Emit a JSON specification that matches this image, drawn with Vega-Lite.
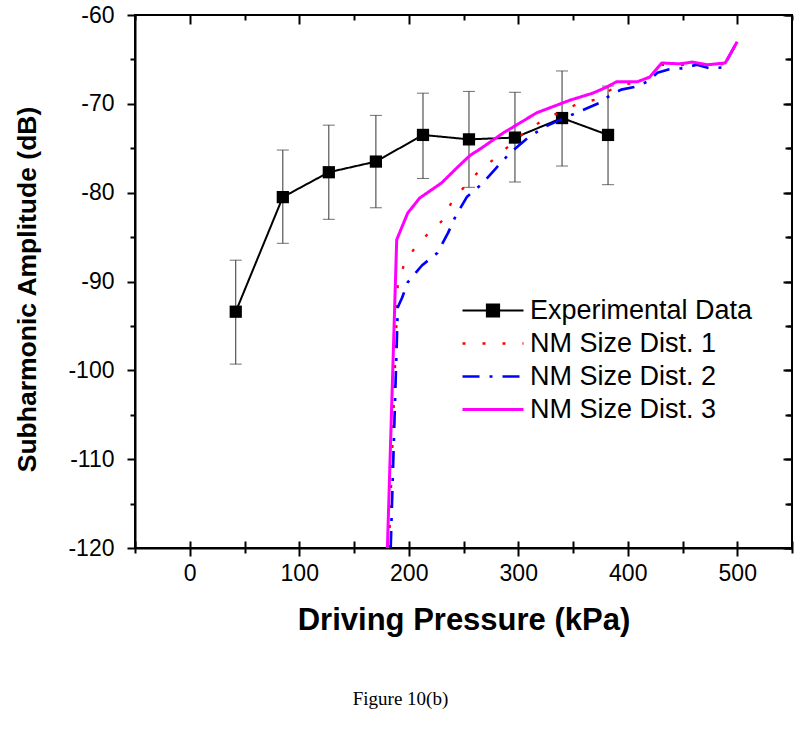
{
  "$schema": "https://vega.github.io/schema/vega-lite/v6.json",
  "width": 657,
  "height": 533,
  "autosize": {"type": "none"},
  "padding": {"left": 135, "top": 15, "right": 8, "bottom": 183},
  "background": "white",
  "title": {
    "text": "Figure 10(b)",
    "orient": "bottom",
    "anchor": "middle",
    "dx": -63,
    "offset": 55,
    "font": "Liberation Serif",
    "fontSize": 19,
    "fontWeight": "normal",
    "color": "black"
  },
  "config": {
    "view": {"stroke": "black", "strokeWidth": 2},
    "axis": {
      "domainColor": "black",
      "domainWidth": 2,
      "tickColor": "black",
      "tickWidth": 2,
      "labelFont": "Liberation Sans",
      "labelColor": "black",
      "titleFont": "Liberation Sans",
      "titleColor": "black",
      "titleFontWeight": "bold",
      "grid": false,
      "labelOverlap": false,
      "labelBound": false
    }
  },
  "resolve": {"axis": {"x": "independent", "y": "independent"}},
  "datasets": {
    "exp": [
      {"series": "Experimental Data", "p": 42, "amp": -93.4, "lo": -99.3, "hi": -87.6},
      {"series": "Experimental Data", "p": 85, "amp": -80.5, "lo": -85.7, "hi": -75.2},
      {"series": "Experimental Data", "p": 127, "amp": -77.7, "lo": -83.0, "hi": -72.4},
      {"series": "Experimental Data", "p": 170, "amp": -76.5, "lo": -81.7, "hi": -71.3},
      {"series": "Experimental Data", "p": 213, "amp": -73.5, "lo": -78.4, "hi": -68.8},
      {"series": "Experimental Data", "p": 255, "amp": -74.0, "lo": -79.4, "hi": -68.6},
      {"series": "Experimental Data", "p": 297, "amp": -73.8, "lo": -78.8, "hi": -68.7},
      {"series": "Experimental Data", "p": 340, "amp": -71.6, "lo": -77.0, "hi": -66.3},
      {"series": "Experimental Data", "p": 382, "amp": -73.5, "lo": -79.1, "hi": -68.0}
    ],
    "curves": [
      {"series": "Experimental Data", "p": 42, "amp": -93.4},
      {"series": "Experimental Data", "p": 85, "amp": -80.5},
      {"series": "Experimental Data", "p": 127, "amp": -77.7},
      {"series": "Experimental Data", "p": 170, "amp": -76.5},
      {"series": "Experimental Data", "p": 213, "amp": -73.5},
      {"series": "Experimental Data", "p": 255, "amp": -74.0},
      {"series": "Experimental Data", "p": 297, "amp": -73.8},
      {"series": "Experimental Data", "p": 340, "amp": -71.6},
      {"series": "Experimental Data", "p": 382, "amp": -73.5},
      {"series": "NM Size Dist. 1", "p": 182, "amp": -120},
      {"series": "NM Size Dist. 1", "p": 190, "amp": -90.2},
      {"series": "NM Size Dist. 1", "p": 196, "amp": -88.0},
      {"series": "NM Size Dist. 1", "p": 205, "amp": -86.3},
      {"series": "NM Size Dist. 1", "p": 217, "amp": -84.7},
      {"series": "NM Size Dist. 1", "p": 231, "amp": -83.1},
      {"series": "NM Size Dist. 1", "p": 239, "amp": -81.1},
      {"series": "NM Size Dist. 1", "p": 251, "amp": -79.3},
      {"series": "NM Size Dist. 1", "p": 264, "amp": -77.6},
      {"series": "NM Size Dist. 1", "p": 279, "amp": -76.1},
      {"series": "NM Size Dist. 1", "p": 306, "amp": -73.2},
      {"series": "NM Size Dist. 1", "p": 323, "amp": -71.8},
      {"series": "NM Size Dist. 1", "p": 356, "amp": -69.9},
      {"series": "NM Size Dist. 1", "p": 372, "amp": -69.5},
      {"series": "NM Size Dist. 1", "p": 387, "amp": -68.2},
      {"series": "NM Size Dist. 1", "p": 405, "amp": -67.6},
      {"series": "NM Size Dist. 1", "p": 420, "amp": -67.0},
      {"series": "NM Size Dist. 1", "p": 431, "amp": -65.6},
      {"series": "NM Size Dist. 1", "p": 447, "amp": -65.7},
      {"series": "NM Size Dist. 1", "p": 459, "amp": -65.4},
      {"series": "NM Size Dist. 1", "p": 473, "amp": -65.7},
      {"series": "NM Size Dist. 1", "p": 489, "amp": -65.5},
      {"series": "NM Size Dist. 1", "p": 500, "amp": -63.0},
      {"series": "NM Size Dist. 2", "p": 183.5, "amp": -120},
      {"series": "NM Size Dist. 2", "p": 190, "amp": -92.9},
      {"series": "NM Size Dist. 2", "p": 194, "amp": -91.8},
      {"series": "NM Size Dist. 2", "p": 199, "amp": -90.1},
      {"series": "NM Size Dist. 2", "p": 212, "amp": -88.2},
      {"series": "NM Size Dist. 2", "p": 226, "amp": -86.8},
      {"series": "NM Size Dist. 2", "p": 236, "amp": -84.5},
      {"series": "NM Size Dist. 2", "p": 243, "amp": -82.6},
      {"series": "NM Size Dist. 2", "p": 253, "amp": -80.5},
      {"series": "NM Size Dist. 2", "p": 267, "amp": -79.0},
      {"series": "NM Size Dist. 2", "p": 280, "amp": -77.2},
      {"series": "NM Size Dist. 2", "p": 292, "amp": -75.6},
      {"series": "NM Size Dist. 2", "p": 309, "amp": -73.8},
      {"series": "NM Size Dist. 2", "p": 324, "amp": -72.6},
      {"series": "NM Size Dist. 2", "p": 342, "amp": -71.6},
      {"series": "NM Size Dist. 2", "p": 359, "amp": -70.7},
      {"series": "NM Size Dist. 2", "p": 376, "amp": -69.8},
      {"series": "NM Size Dist. 2", "p": 382, "amp": -69.2},
      {"series": "NM Size Dist. 2", "p": 394, "amp": -68.4},
      {"series": "NM Size Dist. 2", "p": 406, "amp": -68.1},
      {"series": "NM Size Dist. 2", "p": 418, "amp": -67.5},
      {"series": "NM Size Dist. 2", "p": 427, "amp": -66.5},
      {"series": "NM Size Dist. 2", "p": 438, "amp": -66.1},
      {"series": "NM Size Dist. 2", "p": 450, "amp": -66.0},
      {"series": "NM Size Dist. 2", "p": 463, "amp": -65.6},
      {"series": "NM Size Dist. 2", "p": 475, "amp": -66.0},
      {"series": "NM Size Dist. 2", "p": 487, "amp": -65.9},
      {"series": "NM Size Dist. 2", "p": 500, "amp": -63.0},
      {"series": "NM Size Dist. 3", "p": 180.5, "amp": -120},
      {"series": "NM Size Dist. 3", "p": 189, "amp": -85.3},
      {"series": "NM Size Dist. 3", "p": 199, "amp": -82.3},
      {"series": "NM Size Dist. 3", "p": 210, "amp": -80.6},
      {"series": "NM Size Dist. 3", "p": 230, "amp": -78.9},
      {"series": "NM Size Dist. 3", "p": 244, "amp": -77.2},
      {"series": "NM Size Dist. 3", "p": 256, "amp": -75.8},
      {"series": "NM Size Dist. 3", "p": 265, "amp": -75.1},
      {"series": "NM Size Dist. 3", "p": 286, "amp": -73.3},
      {"series": "NM Size Dist. 3", "p": 317, "amp": -71.0},
      {"series": "NM Size Dist. 3", "p": 347, "amp": -69.6},
      {"series": "NM Size Dist. 3", "p": 368, "amp": -68.8},
      {"series": "NM Size Dist. 3", "p": 381, "amp": -68.1},
      {"series": "NM Size Dist. 3", "p": 390, "amp": -67.5},
      {"series": "NM Size Dist. 3", "p": 409, "amp": -67.5},
      {"series": "NM Size Dist. 3", "p": 420, "amp": -67.0},
      {"series": "NM Size Dist. 3", "p": 431, "amp": -65.4},
      {"series": "NM Size Dist. 3", "p": 447, "amp": -65.5},
      {"series": "NM Size Dist. 3", "p": 459, "amp": -65.3},
      {"series": "NM Size Dist. 3", "p": 473, "amp": -65.6},
      {"series": "NM Size Dist. 3", "p": 489, "amp": -65.4},
      {"series": "NM Size Dist. 3", "p": 500, "amp": -63.0}
    ]
  },
  "layer": [
    {
      "data": {"name": "exp"},
      "mark": {"type": "rule", "color": "#333333", "strokeWidth": 1},
      "encoding": {
        "x": {"field": "p", "type": "quantitative", "scale": {"domain": [-50, 550], "nice": false, "zero": false},
          "axis": {"orient": "top", "values": [-50, 0, 50, 100, 150, 200, 250, 300, 350, 400, 450, 500, 550], "labels": false, "title": null, "domain": false, "ticks": true,
            "tickSize": {"condition": {"test": "datum.value % 100 === 0", "value": -9}, "value": -5}}},
        "y": {"field": "lo", "type": "quantitative", "scale": {"domain": [-120, -60], "nice": false, "zero": false},
          "axis": {"orient": "right", "values": [-120, -115, -110, -105, -100, -95, -90, -85, -80, -75, -70, -65, -60], "labels": false, "title": null, "domain": false, "ticks": true,
            "tickSize": {"condition": {"test": "datum.value % 10 === 0", "value": -9}, "value": -5}}},
        "y2": {"field": "hi"}
      }
    },
    {
      "data": {"name": "exp"},
      "mark": {"type": "tick", "orient": "horizontal", "size": 12, "thickness": 1, "color": "#333333"},
      "encoding": {
        "x": {"field": "p", "type": "quantitative", "axis": null},
        "y": {"field": "hi", "type": "quantitative", "axis": null}
      }
    },
    {
      "data": {"name": "exp"},
      "mark": {"type": "tick", "orient": "horizontal", "size": 12, "thickness": 1, "color": "#333333"},
      "encoding": {
        "x": {"field": "p", "type": "quantitative", "axis": null},
        "y": {"field": "lo", "type": "quantitative", "axis": null}
      }
    },
    {
      "data": {"name": "exp"},
      "mark": {"type": "point", "shape": "square", "filled": true, "size": 150, "color": "black", "opacity": 1},
      "encoding": {
        "x": {"field": "p", "type": "quantitative", "axis": null},
        "y": {"field": "amp", "type": "quantitative", "axis": null}
      }
    },
    {
      "data": {"name": "curves"},
      "mark": {"type": "line", "strokeCap": "butt", "strokeJoin": "round"},
      "encoding": {
        "x": {"field": "p", "type": "quantitative",
          "axis": {"orient": "bottom", "values": [-50, 0, 50, 100, 150, 200, 250, 300, 350, 400, 450, 500, 550],
            "labelExpr": "datum.value % 100 === 0 ? '' + datum.value : ''", "labelFontSize": 23, "labelPadding": 6,
            "title": "Driving Pressure (kPa)", "titleFontSize": 31, "titlePadding": 20,
            "grid": true, "gridColor": "black", "gridWidth": 2, "gridOpacity": 1, "gridDash": [0, 526, 7, 200],
            "tickSize": {"condition": {"test": "datum.value % 100 === 0", "value": 8}, "value": 5}}},
        "y": {"field": "amp", "type": "quantitative",
          "axis": {"orient": "left", "values": [-120, -115, -110, -105, -100, -95, -90, -85, -80, -75, -70, -65, -60],
            "labelExpr": "datum.value % 10 === 0 ? '' + datum.value : ''", "labelFontSize": 23, "labelPadding": 13,
            "title": "Subharmonic Amplitude (dB)", "titleFontSize": 26.5, "titlePadding": 26, "titleY": 274,
            "grid": true, "gridColor": "black", "gridWidth": 2, "gridOpacity": 1, "gridDash": [0, 650, 7, 200],
            "tickSize": {"condition": {"test": "datum.value % 10 === 0", "value": 8}, "value": 5}}},
        "color": {"field": "series", "type": "nominal",
          "scale": {"domain": ["Experimental Data", "NM Size Dist. 1", "NM Size Dist. 2", "NM Size Dist. 3"], "range": ["black", "#FF0000", "#0000FF", "#FF00FF"]},
          "legend": {
            "orient": "none", "legendX": 326, "legendY": 279, "title": null, "padding": 0,
            "symbolType": "stroke", "symbolSize": 3721, "symbolStrokeWidth": 3,
            "labelFont": "Liberation Sans", "labelFontSize": 27, "labelColor": "black", "labelOffset": 5,
            "rowPadding": 0, "clipHeight": 33, "labelLimit": 400,
            "encode": {
              "symbols": {
                "update": {
                  "shape": {"signal": "datum.value === 'Experimental Data' ? 'M-1,0H1M-0.2,-0.2H0.2V0.2H-0.2Z' : 'stroke'"},
                  "fill": {"signal": "datum.value === 'Experimental Data' ? 'black' : 'transparent'"},
                  "strokeWidth": {"signal": "datum.value === 'Experimental Data' ? 2 : datum.value === 'NM Size Dist. 3' ? 4 : 3.5"}
                }
              }
            }
          }
        },
        "strokeDash": {"field": "series", "type": "nominal",
          "scale": {"domain": ["Experimental Data", "NM Size Dist. 1", "NM Size Dist. 2", "NM Size Dist. 3"], "range": [[1, 0], [3, 17], [17, 10, 3, 10], [1, 0]]}},
        "strokeWidth": {"field": "series", "type": "nominal", "legend": null,
          "scale": {"domain": ["Experimental Data", "NM Size Dist. 1", "NM Size Dist. 2", "NM Size Dist. 3"], "range": [2, 3, 3.5, 4]}}
      }
    }
  ]
}
